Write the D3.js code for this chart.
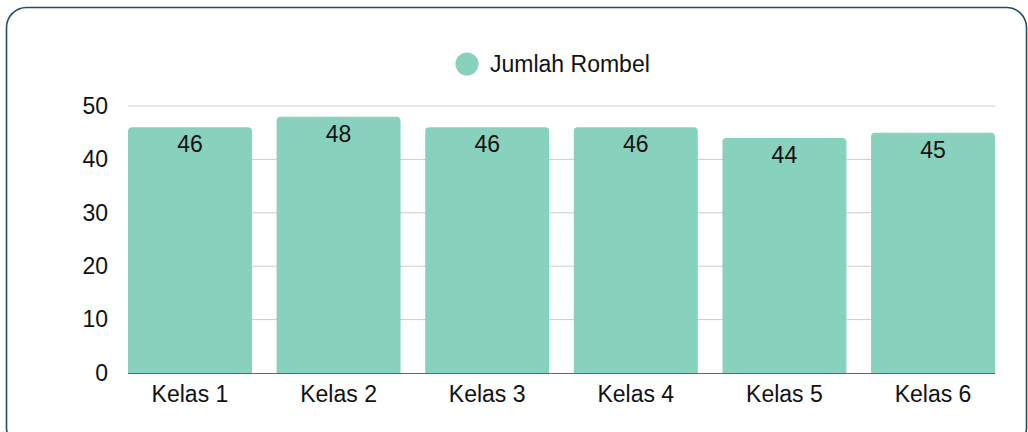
<!DOCTYPE html>
<html>
<head>
<meta charset="utf-8">
<script src="https://cdn.jsdelivr.net/npm/d3@7"></script>
<style>
  body { margin: 0; background: #fff; }
  svg { display: block; font-family: "Liberation Sans", Arial, sans-serif; }
</style>
</head>
<body>
<svg id="canvas" width="1028" height="432"></svg>
<script>
let categories = ["Kelas 1", "Kelas 2", "Kelas 3", "Kelas 4", "Kelas 5", "Kelas 6"]
let values = [46, 48, 46, 46, 44, 45]
let yTicks = [0, 10, 20, 30, 40, 50]
let seriesName = "Jumlah Rombel"

let barColor = "#87d1bd"
let fontSize = 23
let canvas = d3.select("#canvas")

// card border
canvas.append("rect")
    .attr("x", 6.5).attr("y", 7.5)
    .attr("width", 1020).attr("height", 440)
    .attr("rx", 20)
    .attr("fill", "#fff")
    .attr("stroke", "#1b535b")
    .attr("stroke-width", 1.6)

let xScale = d3.scaleBand()
    .domain(categories)
    .range([128, 995])
    .paddingInner(0.166)
    .paddingOuter(0)

let yScale = d3.scaleLinear()
    .domain([0, 50])
    .range([373, 106])

// gridlines
canvas.append("g")
    .selectAll("line")
    .data(yTicks.slice(1))
    .enter()
    .append("line")
    .attr("x1", 128).attr("x2", 995)
    .attr("y1", d => yScale(d)).attr("y2", d => yScale(d))
    .attr("stroke", "#cccccc")
    .attr("stroke-width", 1)

// y axis labels
let yAxis = d3.axisLeft(yScale).tickValues(yTicks).tickSize(0).tickPadding(0)
canvas.append("g")
    .attr("transform", "translate(108, 0)")
    .call(yAxis)
    .call(g => g.select(".domain").remove())
    .selectAll("text")
    .attr("font-size", fontSize)
    .attr("font-family", "Liberation Sans, Arial, sans-serif")
    .attr("fill", "#111")

// bars with rounded top
let r = 4
canvas.append("g")
    .selectAll("path")
    .data(values)
    .enter()
    .append("path")
    .attr("fill", barColor)
    .attr("d", (d, i) => {
        let x0 = xScale(categories[i])
        let x1 = x0 + xScale.bandwidth()
        let y0 = yScale(d)
        let yb = yScale(0)
        return "M" + x0 + "," + yb +
            "V" + (y0 + r) +
            "Q" + x0 + "," + y0 + " " + (x0 + r) + "," + y0 +
            "H" + (x1 - r) +
            "Q" + x1 + "," + y0 + " " + x1 + "," + (y0 + r) +
            "V" + yb + "Z"
    })

// baseline
canvas.append("line")
    .attr("x1", 128).attr("x2", 995)
    .attr("y1", yScale(0) + 0.5).attr("y2", yScale(0) + 0.5)
    .attr("stroke", "#666")
    .attr("stroke-width", 1)

// value labels
canvas.append("g")
    .selectAll("text")
    .data(values)
    .enter()
    .append("text")
    .attr("x", (d, i) => xScale(categories[i]) + xScale.bandwidth() / 2)
    .attr("y", d => yScale(d) + 25)
    .attr("text-anchor", "middle")
    .attr("font-size", fontSize)
    .attr("fill", "#111")
    .text(d => d)

// x axis labels
canvas.append("g")
    .selectAll("text")
    .data(categories)
    .enter()
    .append("text")
    .attr("x", d => xScale(d) + xScale.bandwidth() / 2)
    .attr("y", 402)
    .attr("text-anchor", "middle")
    .attr("font-size", fontSize)
    .attr("fill", "#111")
    .text(d => d)

// legend
let legend = canvas.append("g").attr("transform", "translate(467, 64)")
legend.append("circle").attr("r", 11.5).attr("fill", barColor)
legend.append("text")
    .attr("x", 23).attr("y", 8)
    .attr("font-size", fontSize)
    .attr("fill", "#111")
    .text(seriesName)
</script>
</body>
</html>
